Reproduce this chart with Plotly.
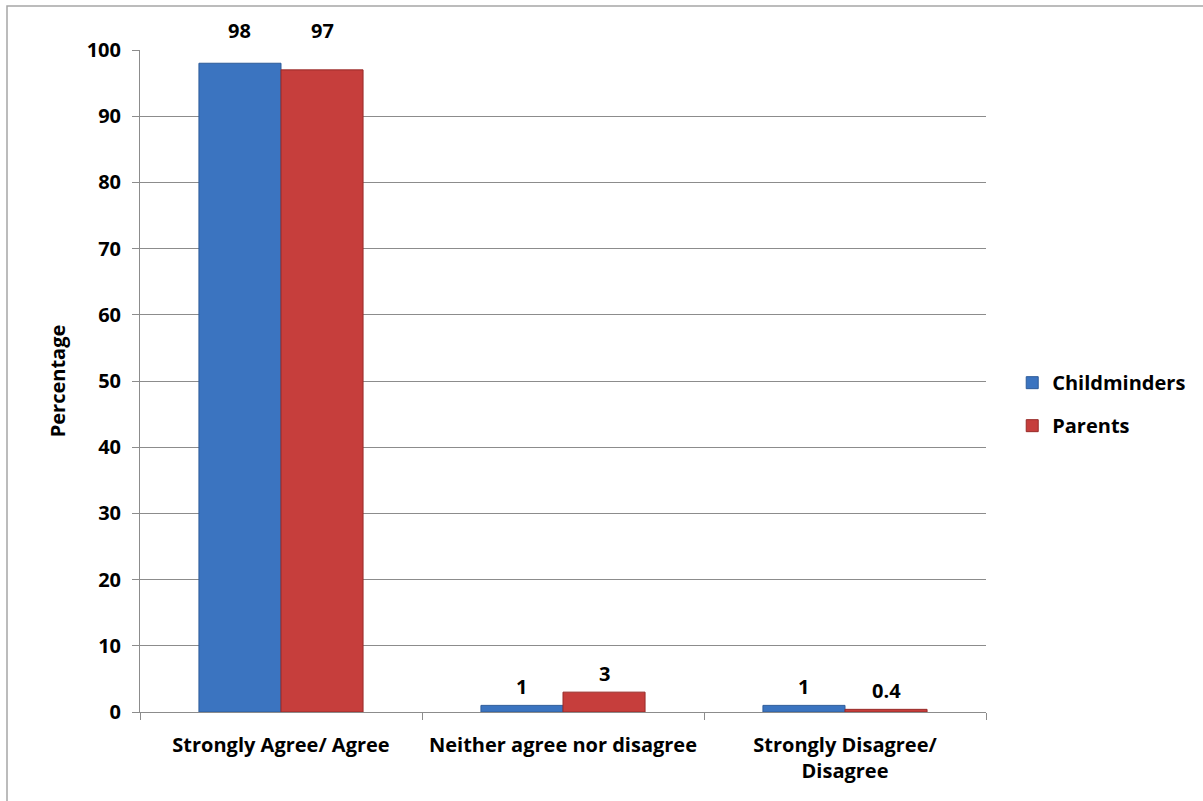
import plotly.graph_objects as go

categories = ["Strongly Agree/ Agree", "Neither agree nor disagree", "Strongly Disagree/<br>Disagree"]
childminders = [98, 1, 1]
parents = [97, 3, 0.4]
childminder_labels = ["98", "1", "1"]
parent_labels = ["97", "3", "0.4"]
y_ticks = [0, 10, 20, 30, 40, 50, 60, 70, 80, 90, 100]

W, H = 1203, 801
ML, MR, MT, MB = 140, 217, 50, 89
PW = W - ML - MR
PH = H - MT - MB
BARGAP = 0.418
Y_MAX = 100

font_family = "'Open Sans', sans-serif"
FS = 20

fig = go.Figure()
fig.add_trace(go.Bar(
    name="Childminders", x=categories, y=childminders, legendgroup="a",
    marker=dict(color="#3B74C0", line=dict(color="#2E5C9A", width=1)),
))
fig.add_trace(go.Bar(
    name="Parents", x=categories, y=parents, legendgroup="b",
    marker=dict(color="#C63E3C", line=dict(color="#982B29", width=1)),
))

# value labels above bars (labels of near-full bars sit just above the plot top)
bar_px = PW / len(categories) * (1 - BARGAP) / 2
for series, labels, sign in ((childminders, childminder_labels, -1), (parents, parent_labels, 1)):
    for cat, val, lab in zip(categories, series, labels):
        if val > 0.9 * Y_MAX:
            y_pos, shift = Y_MAX, 20
        else:
            y_pos, shift = val, 19
        fig.add_annotation(x=cat, y=y_pos, text=lab, showarrow=False,
                           xshift=sign * bar_px / 2, yshift=shift, yanchor="middle",
                           font=dict(family=font_family, size=FS, color="black", weight="bold"))

# outer chart border (left and top visible)
x_left = (7 - ML) / PW
x_right = (1215 - ML) / PW
y_top = (H - MB - 6) / PH
y_bot = (H - MB - 815) / PH
fig.add_shape(type="rect", xref="paper", yref="paper",
              x0=x_left, x1=x_right, y0=y_bot, y1=y_top,
              line=dict(color="#A6A6A6", width=1.5), layer="below")

fig.update_layout(
    width=W, height=H,
    margin=dict(l=ML, r=MR, t=MT, b=MB, autoexpand=False),
    paper_bgcolor="white", plot_bgcolor="white",
    barmode="group", bargap=BARGAP, bargroupgap=0,
    font=dict(family=font_family, size=FS, color="black"),
    showlegend=True,
    legend=dict(x=1.031, y=0.465, xanchor="left", yanchor="middle",
                traceorder="grouped", tracegroupgap=14,
                font=dict(family=font_family, size=FS, color="black", weight="bold")),
    xaxis=dict(
        showline=True, linecolor="#8C8C8C", linewidth=1,
        ticks="outside", tickson="boundaries", ticklen=7, tickcolor="#8C8C8C",
        ticklabelstandoff=15,
        tickfont=dict(family=font_family, size=FS, color="black", weight="bold"),
        showgrid=False,
    ),
    yaxis=dict(
        range=[0, Y_MAX], tickvals=y_ticks,
        showline=True, linecolor="#8C8C8C", linewidth=1,
        ticks="outside", ticklen=7, tickcolor="#8C8C8C",
        ticklabelstandoff=7,
        showgrid=True, gridcolor="#8C8C8C", gridwidth=1,
        zeroline=False,
        tickfont=dict(family=font_family, size=FS, color="black", weight="bold"),
        title=dict(text="Percentage", standoff=15,
                   font=dict(family=font_family, size=FS, color="black", weight="bold")),
    ),
)

fig.write_html("out.html", config={"displayModeBar": False},
               post_script="document.body.style.margin='0';")
